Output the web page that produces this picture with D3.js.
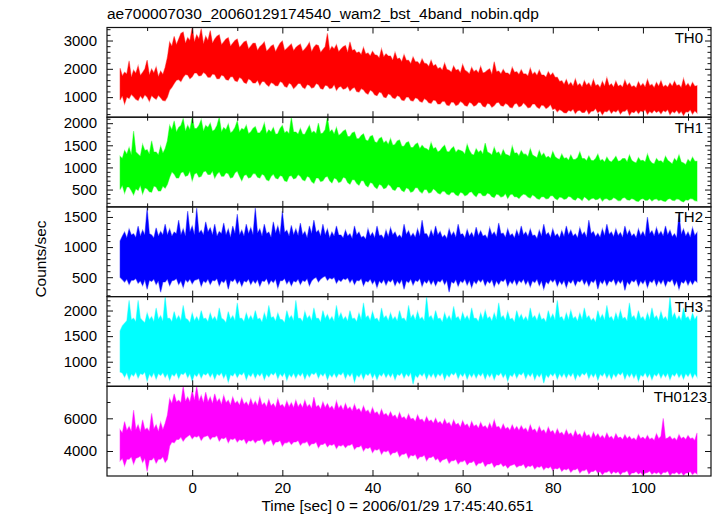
<!DOCTYPE html>
<html><head><meta charset="utf-8">
<script src="https://cdn.jsdelivr.net/npm/d3@7"></script>
<style>
body{margin:0;background:#fff}
svg{display:block}
text{font-family:"Liberation Sans",Arial,Helvetica,sans-serif;fill:#000}
</style>
</head><body>
<svg id="c" width="717" height="516"></svg>
<script>
// ---- data (0.5-s bins, t = -16 .. 112 s; per-bin max / min count rate) ----
const titleText = "ae700007030_20060129174540_wam2_bst_4band_nobin.qdp";
const xLabel = "Time [sec] 0 = 2006/01/29 17:45:40.651";
const yLabel = "Counts/sec";
const startTime = -16, binSize = 0.5;
const panelNames = ["TH0","TH1","TH2","TH3","TH0123"];
const xMajorTicks = [0,20,40,60,80,100];

const th0Hi = [
2020,1750,1880,1820,2280,1700,1950,1840,2100,1760,1870,1990,2310,1780,1990,1850,2060,1720,1920,1800,
2050,2400,2950,2800,3150,2850,3050,3250,3300,2900,3100,3000,3460,2950,3200,3050,3420,2880,3150,3000,
3350,2900,3050,3150,3200,2850,2950,3050,3100,2800,2900,3000,3050,2750,2850,2950,2980,2700,2800,2900,
2900,2650,2780,2850,2950,2620,2700,2800,2850,2600,2760,2900,2980,2650,2720,2800,2880,2640,2750,2820,
2870,2620,2700,2800,2930,2600,2760,2850,2820,2580,2680,2780,3250,2650,2790,2700,2850,2600,2700,2780,
2820,2580,2950,2650,2680,2560,2600,2500,2750,2520,2560,2450,2620,2500,2480,2380,2700,2420,2530,2450,
2450,2300,2580,2350,2380,2250,2500,2300,2300,2180,2420,2250,2250,2150,2350,2200,2180,2080,2300,2100,
2150,2000,2050,1950,2200,1980,1950,1880,2100,1950,1980,1850,2150,1950,1900,1820,2050,1900,1960,1850,
2080,1850,1880,1950,2000,1800,2250,1900,1920,1820,1980,1850,1850,1780,2050,1880,1900,1800,1970,1820,
1820,1750,2020,1800,1880,1760,1950,1780,1780,1700,1900,1760,1850,1700,1700,1550,1580,1450,1620,1420,
1520,1380,1640,1400,1480,1350,1580,1420,1500,1360,1620,1400,1450,1330,1550,1380,1680,1400,1470,1350,
1560,1380,1430,1350,1600,1400,1500,1360,1400,1320,1540,1380,1480,1350,1620,1400,1450,1330,1520,1380,
1580,1360,1420,1350,1500,1380,1560,1400,1440,1330,1650,1380,1480,1350,1520,1380,1400];
const th0Lo = [
900,1050,760,1000,950,1100,1020,920,880,1050,940,1080,1000,850,1060,980,920,1070,980,880,
870,1000,1250,1350,1480,1600,1620,1550,1700,1800,1780,1650,1720,1850,1850,1750,1760,1880,1820,1700,
1700,1820,1800,1650,1650,1780,1750,1620,1600,1720,1720,1580,1550,1700,1650,1520,1480,1650,1600,1500,
1500,1600,1420,1550,1550,1450,1380,1520,1480,1400,1400,1550,1520,1380,1350,1500,1450,1300,1380,1480,
1480,1350,1300,1450,1420,1320,1350,1480,1450,1300,1280,1420,1400,1300,1320,1450,1240,1350,1380,1280,
1300,1380,1220,1300,1350,1200,1180,1300,1260,1150,1100,1250,1200,1080,1050,1180,1150,1000,980,1120,
1080,980,950,1060,1020,900,880,1000,1000,880,860,980,950,850,820,950,900,800,780,900,
880,760,760,850,850,720,700,830,820,700,740,850,800,700,680,820,780,680,720,820,
800,680,650,780,760,640,700,800,820,700,680,780,740,640,620,760,780,660,690,800,
720,620,640,760,760,650,600,720,700,600,650,740,560,600,480,560,520,450,440,540,
500,580,420,520,540,460,460,560,400,500,510,600,450,520,380,500,480,560,430,520,
470,560,400,500,500,580,360,480,450,540,420,520,480,560,390,500,440,540,460,520,
410,530,480,560,380,500,450,540,420,500,350,480,470,550,400,520,440];

const th1Hi = [
1250,1200,1380,1300,1450,1280,1820,1350,1300,1250,1520,1380,1400,1300,1600,1350,1350,1280,1480,1320,
1420,1600,1950,1850,2050,1800,1900,1950,2100,1820,1950,1850,2130,1880,1880,1950,2080,1820,1950,1900,
2000,1820,1850,1950,2130,1800,1900,1850,1980,1780,1820,1900,2050,1800,1880,1850,1950,1760,1800,1880,
1920,1780,1780,1850,2000,1760,1850,1800,1900,1750,1760,1880,1950,1780,1820,1760,2130,1800,1800,1750,
1880,1750,1750,1850,1950,1780,1820,1760,2000,1760,1780,1850,2130,1800,1850,1750,1900,1720,1760,1820,
1850,1700,1700,1780,1800,1650,1650,1720,1760,1620,1600,1700,1720,1580,1560,1650,1680,1550,1600,1520,
1650,1500,1520,1600,1620,1480,1480,1560,1580,1450,1450,1520,1550,1420,1500,1440,1420,1380,1560,1420,
1450,1350,1380,1450,1500,1360,1350,1420,1470,1340,1400,1380,1360,1300,1520,1380,1300,1280,1420,1340,
1380,1300,1550,1350,1320,1280,1450,1320,1350,1260,1400,1300,1280,1250,1480,1320,1330,1260,1380,1300,
1300,1240,1420,1280,1250,1220,1380,1260,1320,1220,1250,1200,1360,1240,1200,1180,1300,1200,1220,1160,
1280,1180,1180,1220,1350,1200,1200,1150,1260,1160,1150,1200,1300,1150,1180,1120,1230,1150,1120,1180,
1250,1140,1150,1200,1200,1120,1280,1160,1120,1100,1220,1150,1160,1120,1300,1160,1100,1080,1200,1140,
1150,1100,1250,1160,1120,1080,1200,1140,1280,1120,1100,1060,1180,1120,1230,1140,1140];
const th1Lo = [
500,600,420,560,560,480,380,520,480,600,400,540,520,450,440,580,560,470,470,580,
530,620,780,900,850,760,760,880,900,800,820,920,700,850,880,780,800,900,920,840,
840,920,760,850,900,800,800,880,860,760,780,880,920,800,700,820,840,760,780,860,
860,780,760,850,820,720,700,800,850,760,740,820,800,700,680,800,820,740,760,840,
800,720,700,800,780,680,640,760,760,680,700,780,800,700,650,760,740,660,680,780,
760,660,620,720,720,640,600,700,700,600,560,660,640,560,520,620,600,520,540,620,
580,500,480,560,560,480,450,540,520,440,460,540,540,460,420,500,500,420,440,520,
480,420,400,460,460,400,380,440,440,380,360,440,420,360,380,440,450,380,340,420,
420,360,360,420,400,340,320,400,380,330,350,410,300,380,400,340,340,300,360,400,
380,330,310,380,350,300,280,340,340,290,300,360,360,300,270,330,320,280,290,350,
330,280,260,320,300,250,340,300,250,290,310,270,280,320,240,290,300,260,270,320,
290,250,250,310,320,270,260,300,280,240,230,280,300,260,260,300,240,280,290,250,
270,240,230,280,300,260,250,290,280,240,220,270,260,300,290,250,240];

const th2Hi = [
1100,1180,1250,1150,1300,1200,1220,1160,1350,1180,1280,1200,1650,1220,1200,1150,1320,1180,1260,1200,
1380,1200,1300,1180,1250,1220,1450,1200,1300,1180,1600,1250,1350,1200,1650,1230,1280,1200,1420,1250,
1320,1200,1380,1180,1260,1220,1400,1200,1300,1160,1350,1220,1550,1200,1280,1180,1380,1220,1320,1200,
1650,1230,1300,1180,1380,1220,1250,1160,1420,1230,1350,1200,1600,1240,1280,1180,1360,1200,1300,1190,
1400,1200,1260,1150,1350,1220,1450,1240,1280,1180,1380,1200,1300,1150,1250,1180,1350,1200,1200,1150,
1280,1180,1220,1140,1350,1200,1250,1160,1180,1130,1300,1180,1240,1150,1350,1190,1200,1140,1280,1170,
1320,1200,1250,1160,1200,1150,1380,1210,1270,1170,1230,1160,1300,1180,1450,1220,1220,1150,1280,1180,
1350,1200,1260,1160,1200,1140,1300,1190,1250,1160,1380,1210,1220,1150,1290,1180,1240,1160,1330,1190,
1270,1180,1200,1140,1320,1200,1250,1170,1400,1220,1230,1160,1300,1190,1220,1150,1280,1180,1350,1200,
1250,1170,1300,1190,1200,1140,1280,1180,1380,1200,1240,1160,1300,1180,1220,1150,1270,1170,1350,1200,
1280,1180,1220,1150,1320,1200,1250,1160,1450,1220,1260,1170,1230,1160,1300,1190,1380,1210,1250,1170,
1300,1190,1240,1160,1350,1200,1280,1180,1220,1150,1300,1190,1260,1170,1500,1220,1270,1180,1320,1200,
1260,1180,1350,1200,1280,1170,1220,1150,1560,1210,1300,1180,1250,1160,1320,1190,1240];
const th2Lo = [
500,460,420,470,380,450,450,480,400,440,360,460,300,450,430,470,380,440,250,420,
420,470,360,440,450,480,380,440,330,460,420,470,390,450,460,480,350,440,410,470,
380,450,440,480,360,440,410,470,300,450,430,480,390,450,350,440,420,470,380,450,
400,460,350,440,430,480,380,450,410,470,320,440,440,480,390,450,360,440,420,470,
380,450,430,480,360,440,480,500,420,470,500,520,450,490,470,500,400,460,430,480,
460,490,410,470,380,450,440,480,360,440,420,470,390,450,330,440,400,460,370,450,
420,470,360,440,390,460,300,440,410,470,370,450,430,480,350,440,400,460,380,450,
360,440,420,470,380,450,250,430,400,460,350,440,410,470,370,450,330,440,390,460,
420,470,360,440,400,460,340,440,380,450,430,480,350,440,390,460,370,450,410,470,
380,450,340,440,410,470,360,440,300,430,390,460,420,470,350,440,380,450,330,440,
400,460,360,440,420,470,380,450,350,440,410,470,300,440,390,460,360,440,420,470,
370,450,400,460,280,430,380,450,420,470,350,440,390,460,330,440,410,470,360,450,
390,460,350,440,420,470,360,440,300,430,400,460,370,450,380,450,420];

const th3Hi = [
1600,1700,1750,1800,2200,1820,1850,1780,2200,1850,1800,1760,1950,1820,1880,1780,2050,1830,1900,1790,
2270,1850,1850,1780,1980,1820,1900,1800,2100,1850,1820,1760,1950,1800,1880,1790,2000,1840,1850,1780,
1950,1820,1880,1790,2050,1850,1820,1760,1980,1830,1900,1800,2150,1850,1850,1780,1950,1820,1900,1810,
2000,1830,1850,1770,1950,1820,2100,1860,1880,1790,1950,1830,1820,1760,2000,1840,1900,1800,2200,1850,
1850,1780,1980,1840,1900,1800,2050,1850,1850,1770,2000,1840,1920,1810,1880,1780,2100,1850,1950,1820,
1880,1790,2000,1840,1850,1780,1950,1820,2150,1860,1900,1800,1980,1830,1850,1770,2050,1850,1900,1800,
1950,1820,1880,1790,2000,1840,1850,1780,2100,1850,1920,1810,1980,1830,1870,1790,2270,1860,1900,1800,
2000,1840,1850,1770,1950,1820,1900,1800,2080,1850,1880,1790,1960,1830,1900,1800,2050,1850,1850,1780,
1950,1820,2000,1840,1880,1790,1950,1820,2150,1860,1900,1800,1980,1830,1850,1770,2000,1840,1920,1810,
1880,1790,2050,1850,1900,1800,1950,1820,1850,1770,2000,1840,1930,1810,2200,1860,1880,1790,1950,1820,
2000,1840,1880,1790,1950,1820,2050,1850,1900,1800,1850,1770,2000,1840,1920,1810,2100,1850,1880,1790,
1950,1820,2000,1840,1870,1790,2150,1860,1900,1800,2000,1840,1880,1790,1950,1820,2050,1850,1900,1800,
1980,1830,1880,1790,2270,1860,1950,1820,1900,1800,2050,1850,1880,1790,1950,1820,1900];
const th3Lo = [
800,780,700,790,650,760,720,800,680,770,750,800,620,760,700,790,660,770,730,790,
690,770,640,760,720,790,670,770,750,800,690,770,620,760,710,790,680,770,740,790,
700,780,660,770,730,790,680,770,600,750,720,790,690,770,740,800,650,760,710,790,
680,770,720,790,650,760,700,780,740,800,670,770,710,790,640,760,700,780,680,770,
720,790,660,770,700,780,750,800,680,770,720,790,650,760,700,780,690,770,740,800,
670,770,710,790,600,750,700,780,660,770,730,790,680,770,650,760,720,790,690,770,
700,780,650,760,730,790,680,770,710,790,560,740,690,770,720,790,660,770,700,780,
680,770,720,790,650,760,700,780,740,800,670,770,710,790,660,770,700,780,680,770,
720,790,660,770,700,780,650,760,730,790,690,770,620,750,710,790,680,770,740,800,
670,770,710,790,650,760,700,780,580,750,690,770,720,790,660,770,700,780,680,770,
710,790,650,760,700,780,740,800,670,770,700,780,640,760,720,790,680,770,660,770,
700,780,740,800,660,770,700,780,680,770,620,750,710,790,690,770,650,760,720,790,
680,770,700,780,650,760,720,790,690,770,660,770,710,790,680,770,700];

const th0123Hi = [
5300,5100,5800,5250,5500,5200,6500,5300,5600,5150,5900,5300,5400,5200,6300,5350,5600,5200,5750,5300,
5700,6200,7200,6900,7500,7000,7100,6950,7960,7050,7300,7000,7700,7100,7960,7050,7400,6950,7600,7000,
7300,6900,7500,7000,7200,6850,7400,6950,7100,6800,7300,6900,7050,6800,7250,6850,7000,6750,7200,6800,
7050,6750,7300,6800,6950,6700,7150,6750,6900,6650,7200,6750,6850,6650,7050,6700,6950,6650,7100,6700,
6900,6650,7100,6700,6850,6600,7300,6700,6800,6550,7000,6650,6900,6600,6750,6500,7050,6600,6800,6500,
6900,6550,6700,6450,6850,6500,6600,6350,6750,6400,6500,6250,6650,6300,6400,6150,6550,6200,6300,6100,
6400,6100,6200,5950,6350,6000,6100,5900,6250,5950,6000,5800,6200,5900,5950,5750,6100,5800,5900,5700,
6000,5700,5800,5600,5950,5650,5750,5500,5900,5600,5700,5450,5850,5550,5650,5400,5800,5500,5600,5400,
5750,5450,5550,5350,5700,5400,5900,5450,5500,5300,5650,5350,5450,5250,5600,5300,5500,5250,5550,5300,
5400,5150,5600,5250,5350,5100,5500,5200,5300,5050,5450,5150,5250,5000,5350,5050,5150,4950,5300,5000,
5100,4850,5250,4950,5050,4800,5200,4900,5000,4750,5150,4850,5050,4800,4950,4750,5100,4800,4900,4700,
5050,4800,4850,4700,5000,4750,4900,4700,4800,4650,5000,4750,4850,4700,4950,4700,4800,4650,5050,4750,
4900,6000,4750,4800,4900,4700,4800,4650,5000,4750,4850,4700,4950,4750,4800,4650,5100];
const th0123Lo = [
3400,3550,3100,3500,3500,3650,3200,3550,3600,3700,3300,3550,2750,3450,3450,3600,3250,3500,3500,3650,
3300,3500,4300,4550,4500,4700,4700,4850,4600,4800,4900,5000,4750,4900,4850,4950,4650,4850,4900,4950,
4700,4850,4850,4950,4600,4800,4750,4850,4500,4750,4700,4800,4550,4700,4650,4750,4450,4650,4600,4700,
4500,4650,4650,4750,4400,4600,4600,4700,4350,4550,4550,4650,4300,4500,4500,4600,4400,4550,4550,4650,
4350,4500,4500,4600,4300,4450,4450,4550,4200,4400,4400,4500,4250,4400,4350,4450,4150,4350,4300,4400,
4200,4350,4350,4450,4100,4250,4250,4350,4000,4200,4150,4250,3900,4100,4050,4150,3800,4000,3950,4050,
3750,3900,3900,4000,3650,3800,3800,3900,3550,3750,3700,3800,3500,3650,3650,3750,3400,3600,3600,3700,
3450,3550,3300,3450,3500,3550,3250,3400,3400,3500,3200,3350,3350,3450,3150,3300,3300,3400,3100,3250,
3250,3350,3050,3200,3200,3300,3000,3150,3150,3250,3050,3150,2950,3100,3150,3200,3000,3100,3100,3200,
2950,3100,3050,3150,2900,3050,3000,3100,2850,3000,2950,3050,2800,2950,2900,3000,2750,2900,2850,2950,
2700,2850,2850,2950,2650,2800,2800,2900,2600,2750,2750,2850,2650,2750,2550,2700,2700,2800,2600,2750,
2650,2750,2550,2700,2700,2800,2500,2650,2650,2750,2600,2700,2520,2650,2680,2780,2580,2700,2620,2720,
2550,2700,2680,2780,2500,2650,2620,2720,2580,2700,2520,2650,2650,2750,2560,2700,2600];

// y-axis tick labels per panel
const th0Ticks = [1000,2000,3000];
const th1Ticks = [500,1000,1500,2000];
const th2Ticks = [500,1000,1500];
const th3Ticks = [1000,1500,2000];
const th0123Ticks = [4000,6000];

// ---- configuration (styles / axis ranges) ----
const panels = [
  {name:panelNames[0], hi:th0Hi, lo:th0Lo, ticks:th0Ticks, minor:200, domain:[290,3460], color:"#ff0000", lx:703},
  {name:panelNames[1], hi:th1Hi, lo:th1Lo, ticks:th1Ticks, minor:100, domain:[108,2135], color:"#00ff00", lx:703},
  {name:panelNames[2], hi:th2Hi, lo:th2Lo, ticks:th2Ticks, minor:100, domain:[178,1667], color:"#0000ff", lx:703},
  {name:panelNames[3], hi:th3Hi, lo:th3Lo, ticks:th3Ticks, minor:100, domain:[520,2272], color:"#00ffff", lx:703},
  {name:panelNames[4], hi:th0123Hi, lo:th0123Lo, ticks:th0123Ticks, minor:1000, domain:[2470,7960], color:"#ff00ff", lx:707}
];

const svg = d3.select("#c");
const L = 107, R = 711, T = 27.5, B = 476;
const ph = (B - T) / panels.length;
const x = d3.scaleLinear().domain([-18.9, 115.1]).range([L, R]);
const xMinor = d3.range(-10, 115, 10).filter(v => !xMajorTicks.includes(v));
const FS = 15;
const axisColor = "#111";

function styleAxis(g){
  g.select(".domain").remove();
  g.selectAll(".tick line").attr("stroke", axisColor).attr("stroke-width", 1);
  g.selectAll("text").attr("font-size", FS).attr("font-family", '"Liberation Sans",Arial,sans-serif').attr("fill","#000");
}

const defs = svg.append("defs");

panels.forEach((p, i) => {
  const top = T + i * ph, bot = top + ph;
  const y = d3.scaleLinear().domain(p.domain).range([bot, top]);
  const g = svg.append("g");

  defs.append("clipPath").attr("id", "clip" + i)
    .append("rect").attr("x", L).attr("y", top).attr("width", R - L).attr("height", ph);

  const n = Math.min(p.hi.length, p.lo.length);
  const data = d3.range(n).map(k => ({t: startTime + k * binSize, hi: p.hi[k], lo: p.lo[k]}));
  const area = d3.area().x(d => x(d.t)).y0(d => y(d.lo)).y1(d => y(d.hi));
  g.append("path").datum(data).attr("d", area)
    .attr("fill", p.color).attr("stroke", p.color)
    .attr("stroke-opacity", 0.45).attr("stroke-width", 1.1)
    .attr("clip-path", `url(#clip${i})`);

  // minor y ticks
  const mn = d3.range(Math.ceil(p.domain[0] / p.minor) * p.minor, p.domain[1], p.minor)
    .filter(v => !p.ticks.includes(v));
  g.append("g").attr("transform", `translate(${L},0)`)
    .call(d3.axisLeft(y).tickValues(mn).tickSizeInner(-3.5).tickSizeOuter(0).tickFormat(""))
    .call(styleAxis);
  g.append("g").attr("transform", `translate(${L},0)`)
    .call(d3.axisLeft(y).tickValues(p.ticks).tickSizeInner(-6).tickSizeOuter(0).tickPadding(10).tickFormat(d3.format("d")))
    .call(styleAxis);
  g.append("g").attr("transform", `translate(${R},0)`)
    .call(d3.axisRight(y).tickValues(mn).tickSizeInner(-3.5).tickSizeOuter(0).tickFormat(""))
    .call(styleAxis);
  g.append("g").attr("transform", `translate(${R},0)`)
    .call(d3.axisRight(y).tickValues(p.ticks).tickSizeInner(-6).tickSizeOuter(0).tickFormat(""))
    .call(styleAxis);

  // x ticks top & bottom
  g.append("g").attr("transform", `translate(0,${top})`)
    .call(d3.axisTop(x).tickValues(xMinor).tickSizeInner(-3.5).tickSizeOuter(0).tickFormat(""))
    .call(styleAxis);
  g.append("g").attr("transform", `translate(0,${top})`)
    .call(d3.axisTop(x).tickValues(xMajorTicks).tickSizeInner(-6).tickSizeOuter(0).tickFormat(""))
    .call(styleAxis);
  g.append("g").attr("transform", `translate(0,${bot})`)
    .call(d3.axisBottom(x).tickValues(xMinor).tickSizeInner(-3.5).tickSizeOuter(0).tickFormat(""))
    .call(styleAxis);
  const last = i === panels.length - 1;
  const xb = d3.axisBottom(x).tickValues(xMajorTicks).tickSizeInner(-6).tickSizeOuter(0).tickPadding(6.5)
    .tickFormat(last ? d3.format("d") : "");
  g.append("g").attr("transform", `translate(0,${bot})`).call(xb).call(styleAxis);

  // frame
  g.append("rect").attr("x", L).attr("y", top).attr("width", R - L).attr("height", ph)
    .attr("fill", "none").attr("stroke", axisColor).attr("stroke-width", 1.2);

  // panel label
  g.append("text").attr("x", p.lx).attr("y", top + 15.3).attr("text-anchor", "end")
    .attr("font-size", FS).text(p.name);
});

svg.append("text").attr("x", L).attr("y", 19).attr("font-size", 15.5).text(titleText);
svg.append("text").attr("x", 397.5).attr("y", 511).attr("text-anchor", "middle")
  .attr("font-size", 15.4).text(xLabel);
svg.append("text").attr("transform", "translate(46,259) rotate(-90)").attr("text-anchor", "middle")
  .attr("font-size", 15.4).text(yLabel);
</script>
</body></html>
